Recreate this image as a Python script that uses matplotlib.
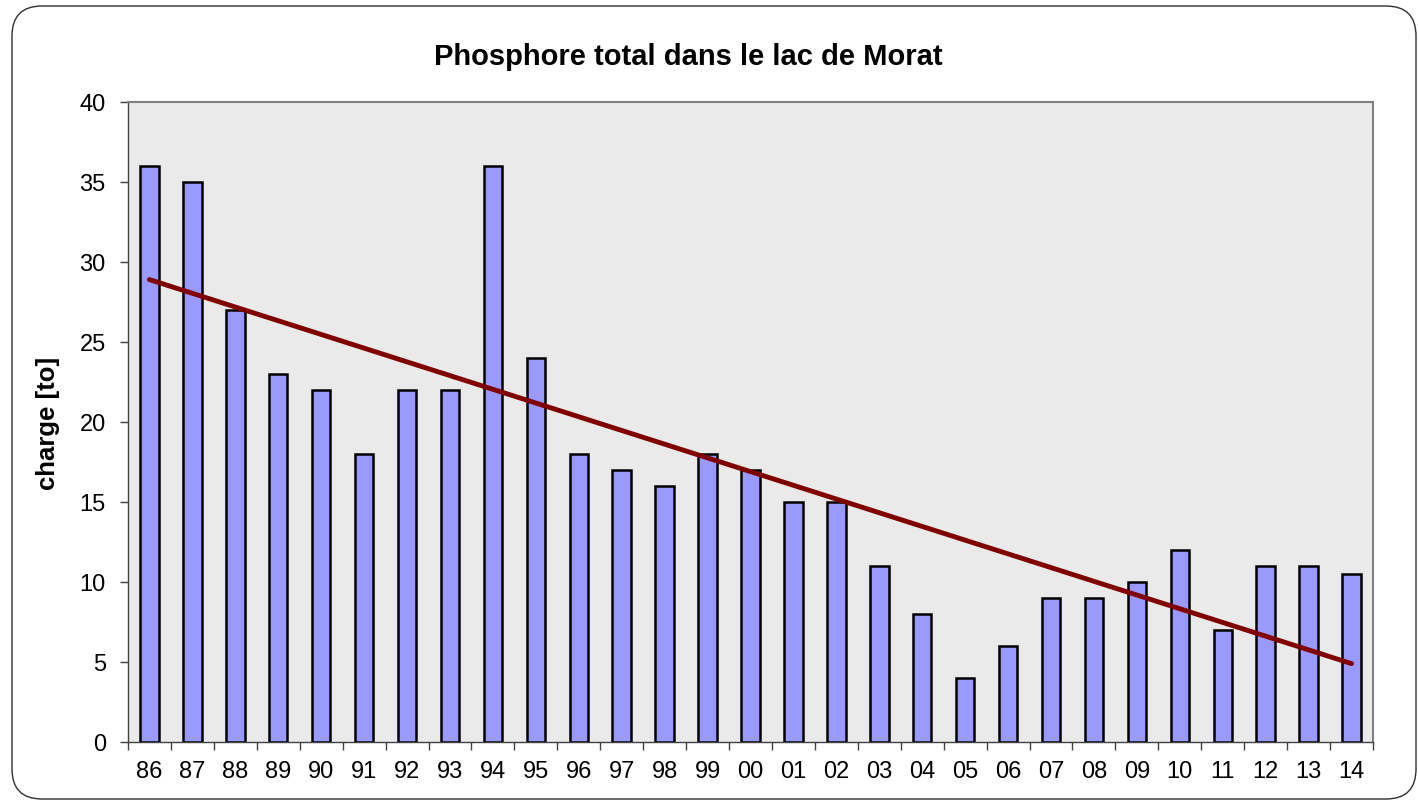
import matplotlib
matplotlib.use('Agg')
import matplotlib.pyplot as plt
from matplotlib.patches import FancyBboxPatch
import numpy as np

plt.rcParams['font.family'] = ['Liberation Sans', 'DejaVu Sans']

YEARS = ['86', '87', '88', '89', '90', '91', '92', '93', '94', '95',
         '96', '97', '98', '99', '00', '01', '02', '03', '04', '05',
         '06', '07', '08', '09', '10', '11', '12', '13', '14']
CHARGE = [36, 35, 27, 23, 22, 18, 22, 22, 36, 24,
          18, 17, 16, 18, 17, 15, 15, 11, 8, 4,
          6, 9, 9, 10, 12, 7, 11, 11, 10.5]
# Excel linear trendline, end values
TREND_START = 28.9
TREND_END = 4.9

W, H = 1418, 804
fig = plt.figure(figsize=(W / 100, H / 100), dpi=100)

# rounded chart-area frame, drawn on a background axes in pixel units
bg = fig.add_axes([0, 0, 1, 1], zorder=0)
bg.set_xlim(0, W)
bg.set_ylim(H, 0)
bg.axis('off')
bg.add_patch(FancyBboxPatch((12, 7), W - 2 - 12, H - 4 - 7,
                            boxstyle='round,pad=0,rounding_size=30',
                            facecolor='white', edgecolor='#303030', linewidth=1.0))

left, right, top, bottom = 128, 1373, 103, 743
ax = fig.add_axes([left / W, 1 - bottom / H, (right - left) / W, (bottom - top) / H], zorder=1)
ax.set_facecolor('#EAEAEA')

x = np.arange(len(YEARS))
ax.bar(x, CHARGE, width=0.43, color='#9999FF', edgecolor='black', linewidth=1.8, zorder=2)
ax.plot([x[0], x[-1]], [TREND_START, TREND_END], color='#800000', linewidth=3.5,
        solid_capstyle='round', zorder=3)

ax.set_xlim(-0.5, len(YEARS) - 0.5)
ax.set_ylim(0, 40)
ax.set_yticks(range(0, 41, 5))
ax.set_xticks(x)
ax.set_xticklabels(YEARS)
ax.set_xticks(np.arange(-0.5, len(YEARS), 1.0), minor=True)
ax.tick_params(axis='x', which='major', length=0, labelsize=17, pad=13)
ax.tick_params(axis='x', which='minor', length=6, width=1, color='#404040', direction='out')
ax.tick_params(axis='y', length=6, width=1, color='#404040', labelsize=17, pad=10)

for side in ('top', 'right'):
    ax.spines[side].set_color('#808080')
    ax.spines[side].set_linewidth(1.5)
for side in ('left', 'bottom'):
    ax.spines[side].set_color('#404040')
    ax.spines[side].set_linewidth(1.0)

ax.set_ylabel('charge [to]', fontsize=18.5, fontweight='bold', labelpad=14)
fig.text(688 / W, 1 - 57 / H, 'Phosphore total dans le lac de Morat',
         ha='center', va='center', fontsize=21, fontweight='bold')

fig.savefig('out.png', dpi=100)
